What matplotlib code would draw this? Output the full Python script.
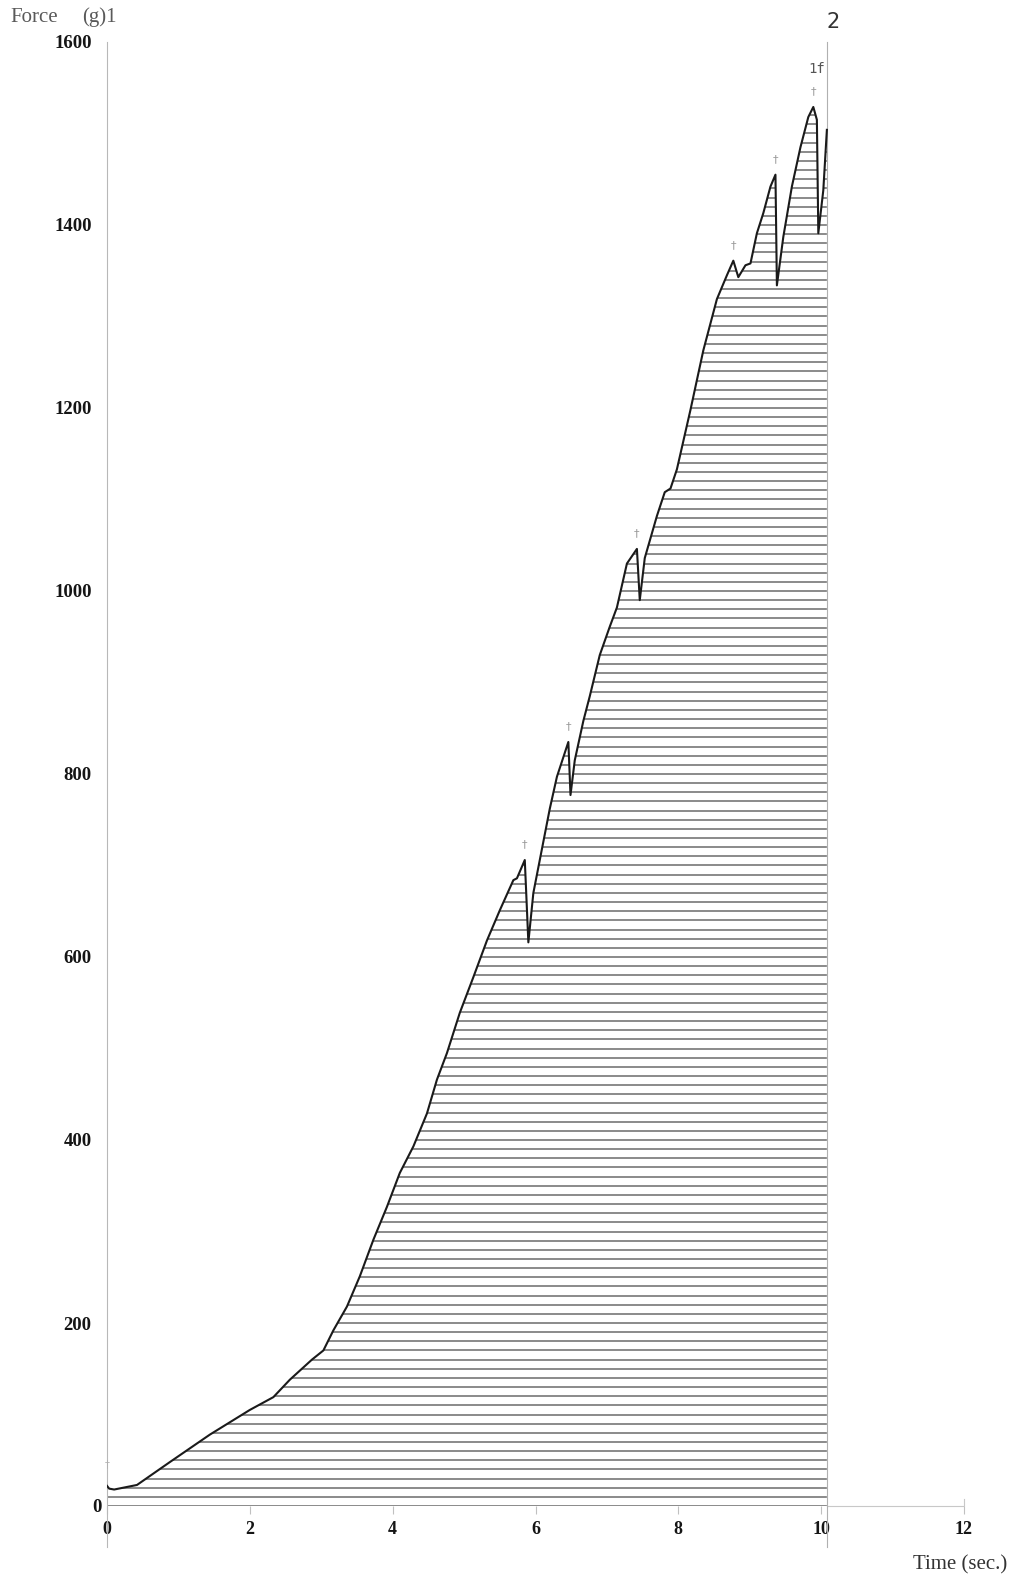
import numpy as np
import matplotlib
matplotlib.use("Agg")
import matplotlib.pyplot as plt
from matplotlib.transforms import ScaledTranslation

# Force trace of the compression test (time in s, force in g)
time_s = [0.00, 0.03, 0.10, 0.42, 0.88, 1.44, 2.00, 2.33, 2.56, 2.87, 3.03,
          3.17, 3.36, 3.54, 3.73, 3.92, 4.10, 4.29, 4.48, 4.62, 4.76, 4.94,
          5.13, 5.32, 5.50, 5.69, 5.74, 5.85, 5.90, 5.97, 6.04, 6.20, 6.30,
          6.46, 6.49, 6.55, 6.67, 6.76, 6.90, 7.04, 7.14, 7.28, 7.42, 7.46,
          7.53, 7.70, 7.81, 7.89, 7.98, 8.17, 8.35, 8.54, 8.68, 8.77, 8.84,
          8.94, 9.01, 9.10, 9.19, 9.29, 9.36, 9.38, 9.47, 9.59, 9.71, 9.82,
          9.89, 9.94, 9.96, 10.03, 10.08]
force_g = [22, 19, 18, 23, 48, 78, 105, 119, 138, 160, 170,
           192, 218, 251, 291, 327, 364, 393, 429, 466, 495, 539,
           578, 618, 651, 684, 686, 706, 616, 670, 698, 762, 797,
           835, 777, 815, 858, 885, 930, 961, 982, 1030, 1046, 990,
           1036, 1082, 1108, 1112, 1133, 1198, 1263, 1319, 1345, 1361, 1343,
           1356, 1358, 1391, 1413, 1442, 1455, 1334, 1387, 1442, 1485, 1518,
           1529, 1515, 1391, 1438, 1504]

# Break events flagged on the trace
event_time = [5.85, 6.46, 7.42, 8.77, 9.36, 9.89]

x_ticks = [0, 2, 4, 6, 8, 10, 12]
x_tick_labels = ["0", "2", "4", "6", "8", "10", "12"]
y_ticks = [0, 200, 400, 600, 800, 1000, 1200, 1400, 1600]
y_tick_labels = ["0", "200", "400", "600", "800", "1000", "1200", "1400", "1600"]

W, H = 1014, 1578
fig = plt.figure(figsize=(W / 100, H / 100), dpi=100)
ax = fig.add_axes([107 / W, 72 / H, (964 - 107) / W, (1506 - 42) / H])
ax.set_xlim(0, 12)
ax.set_ylim(0, 1600)
for s in ax.spines.values():
    s.set_visible(False)

t = np.array(time_s)
f = np.array(force_g)

# Area under the trace, shaded with horizontal rules every 10 g
area = ax.fill_between(t, 0, f, facecolor="none", edgecolor="none")
levels = np.arange(0, f.max() + 1, 10)
rules = ax.hlines(levels, t[0], t[-1], colors="#7c7c7c", lw=1.25)
rules.set_clip_path(area.get_paths()[0], ax.transData)

ax.plot(t, f, color="#1a1a1a", lw=1.5, zorder=3)

# Axis lines
ax.plot([0, 0], [-45, 1600], color="#b8b8b8", lw=0.8, clip_on=False)
ax.plot([t[-1], 12, 12], [0, 0, 8], color="#c8c8c8", lw=0.8, clip_on=False)
ax.plot([t[-1], t[-1]], [-45, 1600], color="#b0b0b0", lw=0.8, clip_on=False)

# Event markers above each break
ev_f = np.interp(event_time, t, f)
for et, ef in zip(event_time, ev_f):
    ax.text(et, ef + 12, "\u2020", ha="center", va="bottom", fontsize=8,
            color="#9a9a9a", family="DejaVu Sans")
ax.text(0.0, 40, "\u2020", ha="center", va="bottom", fontsize=7,
        color="#b0b0b0", family="DejaVu Sans")
ax.text(event_time[-1] + 0.05, ev_f[-1] + 34, "1f", ha="center", va="bottom",
        fontsize=10, color="#555555", family="DejaVu Sans Mono")

serif = "Liberation Serif"
ax.set_xticks(x_ticks)
ax.set_xticklabels(x_tick_labels, family=serif, fontsize=13,
                   fontweight="bold", color="#151515")
ax.tick_params(axis="x", length=6, width=0.8, color="#c0c0c0", pad=5)
ax.set_yticks(y_ticks)
ax.set_yticklabels(y_tick_labels, family=serif, fontsize=13.5,
                   fontweight="bold", color="#151515")
ax.tick_params(axis="y", length=0, pad=11)

# The zero on the force axis sits right against the axis line
zero_lbl = ax.get_yticklabels()[0]
zero_lbl.set_transform(zero_lbl.get_transform()
                       + ScaledTranslation(0.10, 0, fig.dpi_scale_trans))

fig.text(10 / W, 1 - 17 / H, "Force", family=serif, fontsize=15,
         color="#5a5a5a", va="center", ha="left")
fig.text(82 / W, 1 - 17 / H, "(g)1", family=serif, fontsize=15,
         color="#5a5a5a", va="center", ha="left")
fig.text(833 / W, 1 - 22 / H, "2", family="DejaVu Sans", fontsize=15,
         color="#333333", va="center", ha="center")
fig.text(1007 / W, 1 - 1565 / H, "Time (sec.)", family=serif, fontsize=15,
         color="#333333", va="center", ha="right")

fig.savefig("out.png", dpi=100, facecolor="white")
